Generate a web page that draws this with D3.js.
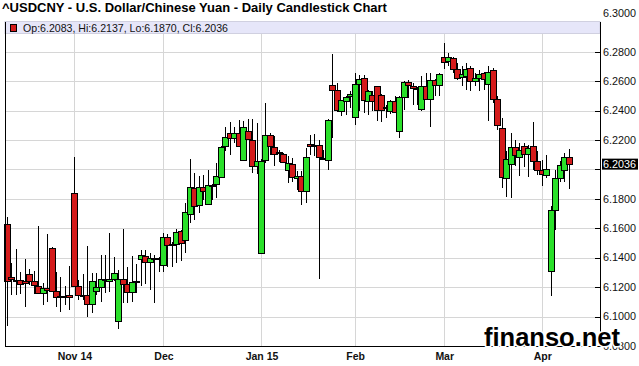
<!DOCTYPE html>
<html>
<head>
<meta charset="utf-8">
<script src="https://cdn.jsdelivr.net/npm/d3@7"></script>
<style>
  body { margin: 0; background: #fff; }
  svg { display: block; font-family: "Liberation Sans", Arial, sans-serif; }
</style>
</head>
<body>
<svg id="chart" width="639" height="366"></svg>
<script>
// daily USD/CNY candles, one entry per trading day (Oct 13 2014 .. Apr 9 2015)
let opens = [
  6.1631, 6.1269, 6.1250, 6.1251, 6.1240, 6.1290, 6.1244, 6.1208, 6.1161, 6.1195,
  6.1468, 6.1174, 6.1140, 6.1138, 6.1145, 6.1839, 6.1206, 6.1146, 6.1145, 6.1086,
  6.1172, 6.1201, 6.1257, 6.1244, 6.1256, 6.0969, 6.1256, 6.1224, 6.1167, 6.1240,
  6.1391, 6.1411, 6.1371, 6.1395, 6.1398, 6.1352, 6.1542, 6.1490, 6.1494, 6.1580,
  6.1519, 6.1697, 6.1873, 6.1760, 6.1880, 6.1767, 6.1893, 6.1898, 6.1948, 6.2156,
  6.2251, 6.2213, 6.2247, 6.2066, 6.2263, 6.2202, 6.2021, 6.1434, 6.2066, 6.2231,
  6.2152, 6.2110, 6.2107, 6.1999, 6.2037, 6.1944, 6.1958, 6.1856, 6.2173, 6.2157,
  6.2166, 6.2078, 6.2062, 6.2575, 6.2541, 6.2394, 6.2466, 6.2496, 6.2356, 6.2582,
  6.2620, 6.2467, 6.2507, 6.2564, 6.2503, 6.2418, 6.2394, 6.2462, 6.2259, 6.2491,
  6.2593, 6.2568, 6.2551, 6.2410, 6.2564, 6.2478, 6.2605, 6.2575, 6.2763, 6.2738,
  6.2756, 6.2681, 6.2627, 6.2636, 6.2688, 6.2598, 6.2620, 6.2654, 6.2580, 6.2677,
  6.2478, 6.2285, 6.1941, 6.2038, 6.2151, 6.2083, 6.2156, 6.2106, 6.2156, 6.2059,
  6.1998, 6.1961, 6.1308, 6.1726, 6.1941, 6.1998, 6.2083
]
let highs = [
  6.1676, 6.1364, 6.1459, 6.1303, 6.1394, 6.1326, 6.1312, 6.1615, 6.1229, 6.1561,
  6.1470, 6.1303, 6.1269, 6.1206, 6.1342, 6.2085, 6.1251, 6.1290, 6.1482, 6.1296,
  6.1296, 6.1421, 6.1421, 6.1568, 6.1405, 6.1319, 6.1594, 6.1336, 6.1409, 6.1360,
  6.1454, 6.1450, 6.1430, 6.1420, 6.1405, 6.1567, 6.1560, 6.1510, 6.1595, 6.1585,
  6.1772, 6.2072, 6.1975, 6.1957, 6.1964, 6.1998, 6.1903, 6.2047, 6.2160, 6.2291,
  6.2321, 6.2290, 6.2338, 6.2326, 6.2342, 6.2342, 6.2315, 6.2070, 6.2451, 6.2247,
  6.2224, 6.2134, 6.2112, 6.2089, 6.2078, 6.1987, 6.1987, 6.2145, 6.2236, 6.2243,
  6.2202, 6.2134, 6.2345, 6.2785, 6.2586, 6.2475, 6.2500, 6.2530, 6.2654, 6.2643,
  6.2640, 6.2541, 6.2534, 6.2570, 6.2510, 6.2440, 6.2473, 6.2496, 6.2500, 6.2600,
  6.2605, 6.2586, 6.2560, 6.2636, 6.2654, 6.2654, 6.2615, 6.2654, 6.2862, 6.2790,
  6.2767, 6.2722, 6.2700, 6.2722, 6.2700, 6.2654, 6.2677, 6.2665, 6.2700, 6.2690,
  6.2496, 6.2350, 6.2122, 6.2246, 6.2201, 6.2178, 6.2183, 6.2167, 6.2319, 6.2122,
  6.2065, 6.2095, 6.1749, 6.1998, 6.2054, 6.2111, 6.2137
]
let lows = [
  6.0939, 6.1150, 6.1150, 6.1156, 6.1066, 6.1217, 6.1156, 6.1156, 6.1082, 6.1098,
  6.1165, 6.1066, 6.1030, 6.1082, 6.1048, 6.1200, 6.1111, 6.1110, 6.0998, 6.1021,
  6.1150, 6.1097, 6.1161, 6.1165, 6.1240, 6.0917, 6.1093, 6.1093, 6.1100, 6.1160,
  6.1206, 6.1220, 6.1180, 6.1093, 6.1300, 6.1300, 6.1335, 6.1340, 6.1365, 6.1376,
  6.1433, 6.1636, 6.1659, 6.1704, 6.1794, 6.1760, 6.1794, 6.1806, 6.1941, 6.2122,
  6.2099, 6.2180, 6.2157, 6.2055, 6.2202, 6.1976, 6.1970, 6.1430, 6.2044, 6.2100,
  6.2021, 6.2050, 6.2044, 6.1908, 6.1913, 6.1863, 6.1761, 6.1773, 6.2100, 6.2089,
  6.1253, 6.2067, 6.1999, 6.2213, 6.2390, 6.2360, 6.2372, 6.2420, 6.2304, 6.2394,
  6.2383, 6.2372, 6.2394, 6.2327, 6.2320, 6.2349, 6.2380, 6.2383, 6.2213, 6.2406,
  6.2485, 6.2440, 6.2440, 6.2400, 6.2470, 6.2288, 6.2496, 6.2496, 6.2681, 6.2700,
  6.2654, 6.2609, 6.2564, 6.2541, 6.2530, 6.2564, 6.2530, 6.2541, 6.2327, 6.2451,
  6.2270, 6.1873, 6.1812, 6.1806, 6.2020, 6.1952, 6.2016, 6.1948, 6.1998, 6.1964,
  6.1885, 6.1941, 6.1139, 6.1591, 6.1918, 6.1918, 6.1870
]
let closes = [
  6.1240, 6.1256, 6.1245, 6.1224, 6.1230, 6.1244, 6.1213, 6.1161, 6.1197, 6.1179,
  6.1174, 6.1134, 6.1136, 6.1136, 6.1131, 6.1208, 6.1149, 6.1143, 6.1086, 6.1244,
  6.1201, 6.1256, 6.1255, 6.1256, 6.1296, 6.1256, 6.1224, 6.1167, 6.1235, 6.1244,
  6.1418, 6.1371, 6.1398, 6.1400, 6.1394, 6.1542, 6.1489, 6.1488, 6.1575, 6.1500,
  6.1711, 6.1880, 6.1754, 6.1880, 6.1851, 6.1891, 6.1896, 6.1952, 6.2151, 6.2219,
  6.2212, 6.2247, 6.2161, 6.2288, 6.2207, 6.2021, 6.2060, 6.2060, 6.2231, 6.2157,
  6.2107, 6.2116, 6.2051, 6.2044, 6.1949, 6.1958, 6.1856, 6.2084, 6.2157, 6.2166,
  6.2084, 6.2080, 6.2338, 6.2541, 6.2405, 6.2469, 6.2491, 6.2512, 6.2580, 6.2614,
  6.2473, 6.2530, 6.2462, 6.2406, 6.2406, 6.2423, 6.2467, 6.2390, 6.2491, 6.2593,
  6.2571, 6.2553, 6.2549, 6.2564, 6.2478, 6.2605, 6.2575, 6.2647, 6.2733, 6.2763,
  6.2681, 6.2620, 6.2647, 6.2681, 6.2598, 6.2620, 6.2647, 6.2613, 6.2665, 6.2478,
  6.2300, 6.1948, 6.2070, 6.2151, 6.2095, 6.2133, 6.2106, 6.2144, 6.2059, 6.1998,
  6.1970, 6.2002, 6.1726, 6.1941, 6.2027, 6.2083, 6.2036
]

// first trading day of each month (index into the arrays above)
let monthIdx = [15, 35, 57, 78, 98, 120]
let monthLabels = ['Nov 14', 'Dec', 'Jan 15', 'Feb', 'Mar', 'Apr']
let yTicks = [6.08, 6.10, 6.12, 6.14, 6.16, 6.18, 6.20, 6.22, 6.24, 6.26, 6.28, 6.30]

let title = '^USDCNY - U.S. Dollar/Chinese Yuan - Daily Candlestick Chart'
let last = opens.length - 1

let svg = d3.select('#chart')

let plotLeft = 5, plotRight = 600, plotTop = 22, plotBottom = 346

let xScale = d3.scaleLinear().domain([0, last]).range([7, 568.5])
let yScale = d3.scaleLinear().domain([6.08, 6.30]).range([plotBottom, plotTop + 0.3])

let candles = d3.range(opens.length).map(i => ({
  i: i, o: opens[i], h: highs[i], l: lows[i], c: closes[i]
}))

let fmt = d3.format('.4f')
let lastY = yScale(closes[last])

// grid
svg.append('g')
  .selectAll('line')
  .data(yTicks.slice(1, -1))
  .enter()
  .append('line')
  .attr('x1', plotLeft).attr('x2', plotRight)
  .attr('y1', d => Math.round(yScale(d)) + 0.5)
  .attr('y2', d => Math.round(yScale(d)) + 0.5)
  .attr('stroke', '#d6d6d6')

svg.append('g')
  .selectAll('line')
  .data(monthIdx)
  .enter()
  .append('line')
  .attr('x1', d => Math.round(xScale(d)) + 0.5)
  .attr('x2', d => Math.round(xScale(d)) + 0.5)
  .attr('y1', plotTop).attr('y2', plotBottom)
  .attr('stroke', '#d6d6d6')

// legend band
svg.append('rect')
  .attr('x', plotLeft).attr('y', 21.5)
  .attr('width', plotRight - plotLeft).attr('height', 12)
  .attr('fill', '#e6e6f9')
  .attr('stroke', '#d0d0e0')

svg.append('rect')
  .attr('x', 10.5).attr('y', 24.5)
  .attr('width', 6).attr('height', 7)
  .attr('fill', '#d41b1b')
  .attr('stroke', '#000')

svg.append('text')
  .attr('x', 23).attr('y', 31.5)
  .attr('font-size', 10.6)
  .attr('fill', '#111')
  .text('Op:' + fmt(opens[last]) + ', Hi:' + fmt(highs[last]) + ', Lo:' + fmt(lows[last]) + ', Cl:' + fmt(closes[last]))

// candles
let cg = svg.append('g')

cg.selectAll('line.wick')
  .data(candles)
  .enter()
  .append('line')
  .attr('class', 'wick')
  .attr('x1', d => Math.round(xScale(d.i)) + 0.5)
  .attr('x2', d => Math.round(xScale(d.i)) + 0.5)
  .attr('y1', d => Math.round(yScale(d.h)))
  .attr('y2', d => Math.round(yScale(d.l)))
  .attr('stroke', '#000')

cg.selectAll('rect.body')
  .data(candles)
  .enter()
  .append('rect')
  .attr('class', 'body')
  .attr('x', d => Math.round(xScale(d.i)) - 2.5)
  .attr('width', 6)
  .attr('y', d => Math.round(yScale(Math.max(d.o, d.c))) + 0.5)
  .attr('height', d => Math.max(1, Math.round(yScale(Math.min(d.o, d.c))) - Math.round(yScale(Math.max(d.o, d.c)))))
  .attr('fill', d => d.c >= d.o ? '#2ae02a' : '#d41b1b')
  .attr('stroke', '#000')
  .attr('stroke-width', 1)

// frame
svg.append('line')
  .attr('x1', plotLeft + 0.5).attr('x2', plotLeft + 0.5)
  .attr('y1', plotTop).attr('y2', plotBottom + 1)
  .attr('stroke', '#000')
svg.append('line')
  .attr('x1', plotLeft).attr('x2', plotRight + 1)
  .attr('y1', plotBottom + 0.5).attr('y2', plotBottom + 0.5)
  .attr('stroke', '#000')
svg.append('line')
  .attr('x1', plotRight + 0.5).attr('x2', plotRight + 0.5)
  .attr('y1', plotTop).attr('y2', plotBottom + 1)
  .attr('stroke', '#000')

// right axis ticks + labels (a label under the price tag is skipped)
svg.append('g')
  .selectAll('line')
  .data(yTicks.slice(1, -1))
  .enter()
  .append('line')
  .attr('x1', plotRight - 5).attr('x2', plotRight)
  .attr('y1', d => Math.round(yScale(d)) + 0.5)
  .attr('y2', d => Math.round(yScale(d)) + 0.5)
  .attr('stroke', '#000')

svg.append('g')
  .selectAll('text')
  .data(yTicks.filter(d => Math.abs(yScale(d) - lastY) > 10))
  .enter()
  .append('text')
  .attr('x', 603)
  .attr('y', d => d === 6.30 ? 13.5 : yScale(d))
  .attr('dy', '0.35em')
  .attr('font-size', 10.8)
  .attr('fill', '#111')
  .text(d => fmt(d))

// last price tag
svg.append('rect')
  .attr('x', 602).attr('y', lastY - 5.5)
  .attr('width', 36).attr('height', 11)
  .attr('fill', '#000')
svg.append('text')
  .attr('x', 603).attr('y', lastY)
  .attr('dy', '0.35em')
  .attr('font-size', 10.8)
  .attr('fill', '#fff')
  .text(fmt(closes[last]))

// month labels
svg.append('g')
  .selectAll('text')
  .data(monthIdx)
  .enter()
  .append('text')
  .attr('x', d => xScale(d) + 1)
  .attr('y', 360)
  .attr('text-anchor', 'middle')
  .attr('font-size', 10.5)
  .attr('font-weight', 'bold')
  .attr('fill', '#111')
  .text((d, k) => monthLabels[k])

// title
svg.append('text')
  .attr('x', 2).attr('y', 12)
  .attr('font-size', 13)
  .attr('font-weight', 'bold')
  .attr('fill', '#000')
  .text(title)

// watermark
svg.append('text')
  .attr('x', 484).attr('y', 345.5)
  .attr('font-size', 25.5)
  .attr('font-weight', 'bold')
  .attr('fill', '#000')
  .attr('stroke', '#fff')
  .attr('stroke-width', 3)
  .attr('paint-order', 'stroke')
  .text('finanso.net')
</script>
</body>
</html>
